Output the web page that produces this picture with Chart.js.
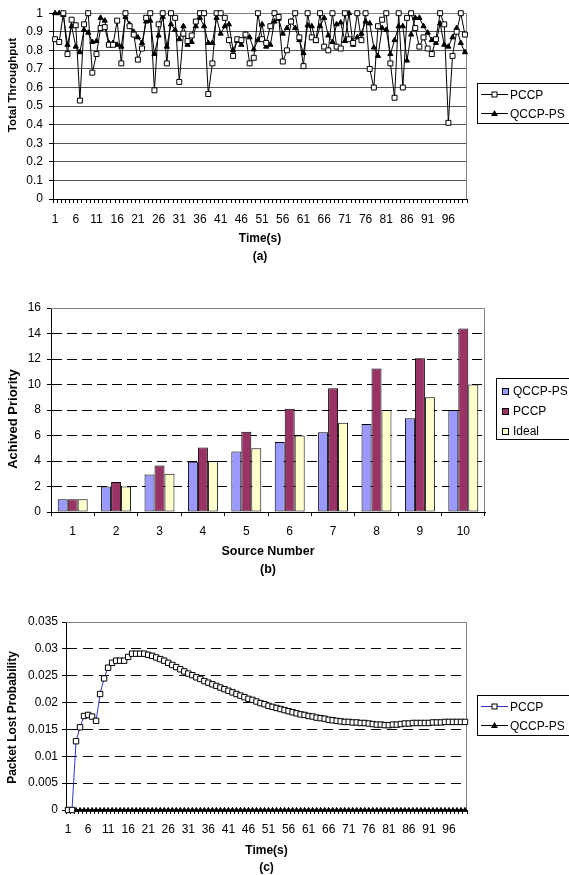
<!DOCTYPE html>
<html>
<head>
<meta charset="utf-8">
<script src="https://cdn.jsdelivr.net/npm/chart.js@4.4.0/dist/chart.umd.min.js"></script>
<style>
  body { margin: 0; background: #fff; overflow: hidden; }
  #page { position: relative; width: 569px; height: 875px; overflow: hidden; font-family: "Liberation Sans", Arial, sans-serif; }
  #page canvas.chart { position: absolute; left: 0; }
  .legend { position: absolute; box-sizing: border-box; border: 1px solid #000; background: #fff; font-size: 12px; color: #000; }
  .legend .row { display: flex; align-items: center; white-space: nowrap; }
</style>
</head>
<body>
<div id="page">
  <canvas class="chart" id="chartA" width="569" height="272" style="top:0px"></canvas>
  <canvas class="chart" id="chartB" width="569" height="310" style="top:280px"></canvas>
  <canvas class="chart" id="chartC" width="569" height="285" style="top:600px"></canvas>

  <div class="legend" id="legA" style="left:477px;top:83px;width:110px;height:41px;padding-top:1px">
    <div class="row" style="height:19px"><canvas class="ico" data-kind="lineSquare" data-color="#000" width="27" height="9" style="margin:0 2px 0 3px"></canvas><span>PCCP</span></div>
    <div class="row" style="height:19px"><canvas class="ico" data-kind="lineTriangle" data-color="#000" width="27" height="9" style="margin:0 2px 0 3px"></canvas><span>QCCP-PS</span></div>
  </div>
  <div class="legend" id="legB" style="left:496px;top:378px;width:90px;height:62px;padding-top:2px">
    <div class="row" style="height:20px"><canvas class="ico" data-kind="box" data-color="#9999ff" width="7" height="7" style="margin:0 4px 0 5px"></canvas><span>QCCP-PS</span></div>
    <div class="row" style="height:20px"><canvas class="ico" data-kind="box" data-color="#993366" width="7" height="7" style="margin:0 4px 0 5px"></canvas><span>PCCP</span></div>
    <div class="row" style="height:20px"><canvas class="ico" data-kind="box" data-color="#ffffcc" width="7" height="7" style="margin:0 4px 0 5px"></canvas><span>Ideal</span></div>
  </div>
  <div class="legend" id="legC" style="left:477px;top:695px;width:110px;height:41px;padding-top:1px">
    <div class="row" style="height:19px"><canvas class="ico" data-kind="lineSquare" data-color="#3333cc" width="27" height="9" style="margin:0 2px 0 3px"></canvas><span>PCCP</span></div>
    <div class="row" style="height:19px"><canvas class="ico" data-kind="lineTriangle" data-color="#000" width="27" height="9" style="margin:0 2px 0 3px"></canvas><span>QCCP-PS</span></div>
  </div>
</div>
<script>
// (a) total throughput, one value per second
const timeLabels = Array.from({ length: 100 }, (_, i) => String(i + 1));

const pccpThroughput = [
  0.86, 0.845, 1.0, 0.78, 0.965, 0.935, 0.53, 0.94, 1.0, 0.68,
  0.78, 0.92, 0.925, 0.83, 0.83, 0.96, 0.73, 1.0, 0.93, 0.885,
  0.75, 0.81, 0.975, 1.0, 0.585, 0.94, 1.0, 0.73, 1.0, 0.975,
  0.63, 0.89, 0.85, 0.88, 0.955, 1.0, 1.0, 0.565, 0.73, 1.0,
  1.0, 0.975, 0.855, 0.77, 0.86, 0.855, 0.885, 0.73, 0.76, 1.0,
  0.86, 0.84, 0.93, 1.0, 0.98, 0.74, 0.8, 0.955, 1.0, 0.87,
  0.715, 1.0, 0.87, 0.855, 1.0, 0.82, 0.8, 1.0, 0.82, 0.81,
  1.0, 0.86, 0.84, 1.0, 0.855, 1.0, 0.7, 0.6, 0.93, 0.965,
  1.0, 0.73, 0.545, 1.0, 0.6, 0.975, 1.0, 0.92, 0.82, 0.87,
  0.81, 0.78, 0.86, 1.0, 0.94, 0.41, 0.77, 0.9, 1.0, 0.885
];
const qccpThroughput = [
  1.0, 1.0, 0.99, 0.83, 0.93, 0.82, 0.79, 0.91, 0.895, 0.845,
  0.85, 0.975, 0.96, 0.84, 0.84, 0.83, 0.82, 0.98, 0.94, 0.9,
  0.87, 0.84, 0.955, 0.96, 0.78, 0.88, 0.98, 0.82, 0.94, 0.91,
  0.86, 0.93, 0.83, 0.845, 0.93, 0.975, 0.93, 0.84, 0.84, 0.975,
  0.89, 0.93, 0.94, 0.8, 0.85, 0.83, 0.885, 0.87, 0.805, 0.855,
  0.94, 0.82, 0.83, 0.955, 0.97, 0.89, 0.92, 0.955, 0.92, 0.855,
  0.785, 0.935, 0.93, 0.85, 0.93, 0.975, 0.88, 0.845, 0.94, 0.95,
  0.85, 1.0, 0.83, 0.87, 0.89, 0.955, 0.945, 0.815, 0.77, 0.92,
  0.91, 0.78, 0.855, 0.93, 0.93, 0.745, 0.885, 0.975, 0.975, 0.93,
  0.895, 0.855, 0.84, 0.945, 0.83, 0.82, 0.87, 0.92, 0.84, 0.79
];

// (b) achieved priority per source
const sourceLabels = ['1', '2', '3', '4', '5', '6', '7', '8', '9', '10'];
const qccpPriority = [1, 2, 2.95, 3.95, 4.75, 5.5, 6.25, 6.9, 7.35, 8.0];
const pccpPriority = [1, 2.35, 3.65, 5.05, 6.3, 8.1, 9.7, 11.25, 12.05, 14.4];
const idealPriority = [1, 2, 3, 4, 5, 6, 7, 8, 9, 10];

// (c) packet lost probability
const pccpLoss = [
  0, 0, 0.0128, 0.0154, 0.0175, 0.0177, 0.0174, 0.0166, 0.0216, 0.0245,
  0.0265, 0.0274, 0.0278, 0.0278, 0.0278, 0.0285, 0.0291, 0.0291, 0.0291, 0.0291,
  0.0289, 0.0287, 0.0284, 0.0281, 0.0278, 0.0274, 0.027, 0.0266, 0.0262, 0.0258,
  0.0254, 0.0251, 0.0247, 0.0244, 0.024, 0.0237, 0.0234, 0.0231, 0.0228, 0.0225,
  0.0222, 0.0219, 0.0216, 0.0213, 0.021, 0.0207, 0.0205, 0.0202, 0.0199, 0.0197,
  0.0194, 0.0192, 0.019, 0.0188, 0.0186, 0.0184, 0.0182, 0.018, 0.0178, 0.0177,
  0.0175, 0.0174, 0.0172, 0.0171, 0.017, 0.0168, 0.0167, 0.0166, 0.0165, 0.0164,
  0.0164, 0.0163, 0.0163, 0.0162, 0.0162, 0.0161, 0.016, 0.0159, 0.0159, 0.0158,
  0.0158, 0.0159, 0.0159, 0.016, 0.0161, 0.0161, 0.0162, 0.0162, 0.0162, 0.0162,
  0.0162, 0.0163, 0.0163, 0.0163, 0.0164, 0.0164, 0.0164, 0.0164, 0.0164, 0.0164
];
const qccpLoss = [
  0, 0, 0, 0, 0, 0, 0, 0, 0, 0, 0, 0, 0, 0, 0, 0, 0, 0, 0, 0,
  0, 0, 0, 0, 0, 0, 0, 0, 0, 0, 0, 0, 0, 0, 0, 0, 0, 0, 0, 0,
  0, 0, 0, 0, 0, 0, 0, 0, 0, 0, 0, 0, 0, 0, 0, 0, 0, 0, 0, 0,
  0, 0, 0, 0, 0, 0, 0, 0, 0, 0, 0, 0, 0, 0, 0, 0, 0, 0, 0, 0,
  0, 0, 0, 0, 0, 0, 0, 0, 0, 0, 0, 0, 0, 0, 0, 0, 0, 0, 0, 0
];

const FONT = '"Liberation Sans", Arial, sans-serif';
Chart.defaults.font.family = FONT;
Chart.defaults.font.size = 12;
Chart.defaults.color = '#000';

// grey frame on top and right of the plot, like the spreadsheet chart
const plotFrame = {
  id: 'plotFrame',
  beforeDatasetsDraw(chart) {
    const a = chart.chartArea;
    const ctx = chart.ctx;
    ctx.save();
    ctx.strokeStyle = '#808080';
    ctx.lineWidth = 1;
    ctx.beginPath();
    ctx.moveTo(a.left, Math.round(a.top) + 0.5);
    ctx.lineTo(Math.round(a.right) - 0.5, Math.round(a.top) + 0.5);
    ctx.lineTo(Math.round(a.right) - 0.5, a.bottom);
    ctx.stroke();
    ctx.restore();
  }
};

// vertical axis title, placed relative to the plot middle
const sideTitle = {
  id: 'sideTitle',
  afterDraw(chart, args, opts) {
    const a = chart.chartArea;
    const ctx = chart.ctx;
    ctx.save();
    ctx.translate(opts.x, (a.top + a.bottom) / 2 + opts.dy);
    ctx.rotate(-Math.PI / 2);
    ctx.font = 'bold ' + opts.size + 'px ' + FONT;
    ctx.fillStyle = '#000';
    ctx.textAlign = 'center';
    ctx.textBaseline = 'middle';
    ctx.fillText(opts.text, 0, 0);
    ctx.restore();
  }
};

function catAxis(title, height, every, o) {
  return {
    type: 'category',
    offset: true,
    grid: { offset: true, drawOnChartArea: false, drawTicks: true, tickLength: 4, tickColor: '#000' },
    border: { display: true, color: '#000', width: 1 },
    ticks: {
      autoSkip: false, maxRotation: 0, minRotation: 0, padding: o.tickPad, color: '#000',
      callback: function (v, i) { return i % every === 0 ? this.getLabelForValue(v) : ''; }
    },
    title: {
      display: true, text: title, color: '#000',
      font: { weight: 'bold', size: o.titleSize, lineHeight: o.titleLh + 'px' },
      padding: { top: 0, bottom: o.titlePad }
    },
    afterFit: s => { s.height = height; }
  };
}

function valAxis(width, max, step, gridColor, dash, pad) {
  return {
    min: 0, max: max,
    ticks: { stepSize: step, padding: pad, color: '#000', callback: v => String(Number(v.toFixed(4))) },
    grid: {
      color: c => (c.tick && c.tick.value >= max - 1e-9) ? 'rgba(0,0,0,0)' : gridColor,
      drawTicks: true, tickLength: 4, tickColor: '#000'
    },
    border: { display: true, color: '#000', width: 1, dash: dash },
    title: { display: false },
    afterFit: s => { s.width = width; }
  };
}

function baseOptions(padding, sideOpts) {
  return {
    responsive: false,
    animation: false,
    events: [],
    layout: { padding: padding },
    plugins: { legend: { display: false }, tooltip: { enabled: false }, sideTitle: sideOpts }
  };
}

new Chart(document.getElementById('chartA'), {
  type: 'line',
  data: {
    labels: timeLabels,
    datasets: [
      {
        label: 'PCCP', data: pccpThroughput, clip: false,
        borderColor: '#000', borderWidth: 1, tension: 0,
        pointStyle: 'rect', pointRadius: 3.5, pointBackgroundColor: '#fff',
        pointBorderColor: '#000', pointBorderWidth: 1
      },
      {
        label: 'QCCP-PS', data: qccpThroughput, clip: false,
        borderColor: '#000', borderWidth: 1, tension: 0,
        pointStyle: 'triangle', pointRadius: 3, pointBackgroundColor: '#000',
        pointBorderColor: '#000', pointBorderWidth: 1
      }
    ]
  },
  options: Object.assign(baseOptions({ top: 11, right: 102, left: 0, bottom: 0 },
    { text: 'Total Throughput', x: 13, dy: -21, size: 11.5 }), {
    scales: {
      x: catAxis(['Time(s)', '(a)'], 73, 5, { tickPad: 9, titleSize: 12, titleLh: 17.5, titlePad: 7 }),
      y: valAxis(53, 1, 0.1, '#555', [], 6)
    }
  }),
  plugins: [plotFrame, sideTitle]
});

new Chart(document.getElementById('chartB'), {
  type: 'bar',
  data: {
    labels: sourceLabels,
    datasets: [
      { label: 'QCCP-PS', data: qccpPriority, backgroundColor: '#9999ff', borderColor: '#000', borderWidth: 1, borderSkipped: false },
      { label: 'PCCP', data: pccpPriority, backgroundColor: '#993366', borderColor: '#000', borderWidth: 1, borderSkipped: false },
      { label: 'Ideal', data: idealPriority, backgroundColor: '#ffffcc', borderColor: '#000', borderWidth: 1, borderSkipped: false }
    ]
  },
  options: Object.assign(baseOptions({ top: 28, right: 84, left: 0, bottom: 0 },
    { text: 'Achived Priority', x: 13, dy: 9, size: 13 }), {
    datasets: { bar: { categoryPercentage: 0.69, barPercentage: 1.0 } },
    scales: {
      x: catAxis(['Source Number', '(b)'], 78, 1, { tickPad: 8, titleSize: 12.5, titleLh: 17.5, titlePad: 12 }),
      y: valAxis(51, 16, 2, '#000', [10, 5], 6)
    }
  }),
  plugins: [plotFrame, sideTitle]
});

new Chart(document.getElementById('chartC'), {
  type: 'line',
  data: {
    labels: timeLabels,
    datasets: [
      {
        label: 'PCCP', data: pccpLoss, clip: false,
        borderColor: '#3333cc', borderWidth: 1, tension: 0,
        pointStyle: 'rect', pointRadius: 3.8, pointBackgroundColor: '#fff',
        pointBorderColor: '#000', pointBorderWidth: 1
      },
      {
        label: 'QCCP-PS', data: qccpLoss, clip: false,
        borderColor: '#000', borderWidth: 1, tension: 0,
        pointStyle: 'triangle', pointRadius: 2.6, pointBackgroundColor: '#000',
        pointBorderColor: '#000', pointBorderWidth: 1
      }
    ]
  },
  options: Object.assign(baseOptions({ top: 22, right: 102, left: 0, bottom: 0 },
    { text: 'Packet Lost Probability', x: 13, dy: 1.5, size: 12 }), {
    scales: {
      x: catAxis(['Time(s)', '(c)'], 75, 5, { tickPad: 8, titleSize: 12, titleLh: 17, titlePad: 9 }),
      y: valAxis(66, 0.035, 0.005, '#000', [10, 6], 4)
    }
  }),
  plugins: [plotFrame, sideTitle]
});

// legend symbols
document.querySelectorAll('canvas.ico').forEach(cv => {
  const g = cv.getContext('2d');
  const col = cv.dataset.color;
  const w = cv.width, h = cv.height;
  if (cv.dataset.kind === 'box') {
    g.fillStyle = col;
    g.fillRect(0, 0, w, h);
    g.strokeStyle = '#000';
    g.strokeRect(0.5, 0.5, w - 1, h - 1);
    return;
  }
  const cx = Math.floor(w / 2) + 0.5, cy = Math.floor(h / 2) + 0.5;
  g.strokeStyle = col;
  g.lineWidth = 1;
  g.beginPath();
  g.moveTo(0, cy);
  g.lineTo(w, cy);
  g.stroke();
  g.strokeStyle = '#000';
  if (cv.dataset.kind === 'lineSquare') {
    g.fillStyle = '#fff';
    g.fillRect(cx - 2.5, cy - 2.5, 5, 5);
    g.strokeRect(cx - 2.5, cy - 2.5, 5, 5);
  } else {
    g.fillStyle = '#000';
    g.beginPath();
    g.moveTo(cx, cy - 3.5);
    g.lineTo(cx + 3.5, cy + 2.5);
    g.lineTo(cx - 3.5, cy + 2.5);
    g.closePath();
    g.fill();
  }
});
</script>
</body>
</html>
